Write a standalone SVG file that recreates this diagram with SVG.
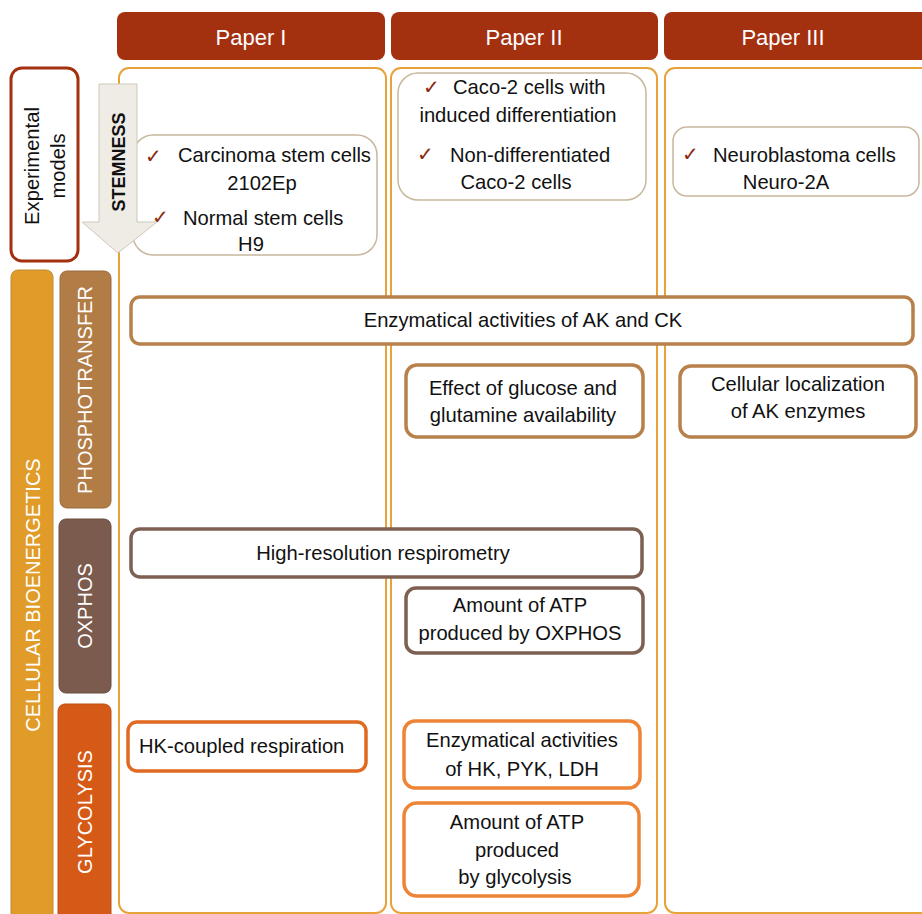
<svg xmlns="http://www.w3.org/2000/svg" width="922" height="914" viewBox="0 0 922 914">
<style>
text{font-family:"Liberation Sans",Arial,sans-serif;fill:#111;}
.hdr{fill:#A3300F;}
.hdrt{fill:#fff;font-size:22px;text-anchor:middle;}
.col{fill:#fff;stroke:#E8A23A;stroke-width:2;}
.model{fill:#fff;stroke:#C8B89E;stroke-width:1.5;}
.t{font-size:20.2px;}
.c{text-anchor:middle;}
.chk{fill:#8B2A10;font-family:"DejaVu Sans",sans-serif;font-size:20px;}
.side{fill:#fff;font-size:20px;text-anchor:middle;}
.pt{fill:#fff;stroke:#B8804A;stroke-width:3.5;}
.ox{fill:#fff;stroke:#7D6052;stroke-width:3.5;}
.gl1{fill:#fff;stroke:#E06A22;stroke-width:3.5;}
.gl2{fill:#fff;stroke:#EE8436;stroke-width:3.5;}
</style>

<g id="columns">
<rect class="col" x="119" y="68" width="267" height="845" rx="10"/>
<rect class="col" x="391" y="68" width="266" height="845" rx="10"/>
<rect class="col" x="665" y="68" width="270" height="845" rx="10"/>
</g>

<g id="paper1"><rect class="hdr" x="117" y="12" width="268" height="48" rx="8"/><text class="hdrt" x="251" y="45">Paper I</text></g>
<g id="paper2"><rect class="hdr" x="391" y="12" width="267" height="48" rx="8"/><text class="hdrt" x="524" y="45">Paper II</text></g>
<g id="paper3"><rect class="hdr" x="664" y="12" width="270" height="48" rx="8"/><text class="hdrt" x="783" y="45">Paper III</text></g>

<g id="experimental-models">
<rect x="11" y="68" width="67" height="193" rx="11" fill="#fff" stroke="#A3300F" stroke-width="3"/>
<text class="t c" transform="translate(39,166) rotate(-90)">Experimental</text>
<text class="t c" transform="translate(65,166) rotate(-90)">models</text>
</g>

<g id="model-paper1">
<rect class="model" x="133" y="135" width="244" height="120" rx="20"/>
<text class="chk" x="145" y="163">✓</text>
<text class="t" x="178" y="162">Carcinoma stem cells</text>
<text class="t c" x="262" y="190">2102Ep</text>
<text class="chk" x="152" y="224">✓</text>
<text class="t" x="183" y="225">Normal stem cells</text>
<text class="t c" x="251" y="251">H9</text>
</g>

<g id="stemness">
<path d="M99,84 H137 V222 H157 L118,253 L82,222 H99 Z" fill="#EFECE6" stroke="#CFC8BA" stroke-width="1"/>
<text transform="translate(125,162) rotate(-90)" font-size="18" font-weight="bold" text-anchor="middle">STEMNESS</text>
</g>

<g id="model-paper2">
<rect class="model" x="398" y="73" width="248" height="127" rx="20"/>
<text class="chk" x="423" y="94">✓</text>
<text class="t" x="453" y="94">Caco-2 cells with</text>
<text class="t c" x="518" y="122">induced differentiation</text>
<text class="chk" x="417" y="161">✓</text>
<text class="t" x="450" y="162">Non-differentiated</text>
<text class="t c" x="516" y="189">Caco-2 cells</text>
</g>

<g id="model-paper3">
<rect class="model" x="673" y="127" width="246" height="69" rx="14"/>
<text class="chk" x="682" y="161">✓</text>
<text class="t" x="713" y="162">Neuroblastoma cells</text>
<text class="t c" x="786" y="189">Neuro-2A</text>
</g>

<g id="cellular-bioenergetics">
<rect x="11" y="270" width="42" height="660" rx="7" fill="#E09B29" stroke="#C08A35" stroke-width="1"/>
<text class="side" transform="translate(40,595) rotate(-90)">CELLULAR BIOENERGETICS</text>
</g>
<g id="phosphotransfer">
<rect x="60" y="271" width="51" height="237" rx="7" fill="#B27C47" stroke="#9C6B3D" stroke-width="1"/>
<text class="side" transform="translate(92,390) rotate(-90)">PHOSPHOTRANSFER</text>
</g>
<g id="oxphos">
<rect x="59" y="519" width="52" height="174" rx="7" fill="#7B5B4D" stroke="#6A4D41" stroke-width="1"/>
<text class="side" transform="translate(92,606) rotate(-90)">OXPHOS</text>
</g>
<g id="glycolysis">
<rect x="58" y="704" width="53" height="220" rx="7" fill="#D65A17" stroke="#BD4F14" stroke-width="1"/>
<text class="side" transform="translate(92,812) rotate(-90)">GLYCOLYSIS</text>
</g>

<g id="ak-ck">
<rect class="pt" x="131" y="297" width="782" height="47" rx="9"/>
<text class="t c" x="523" y="327">Enzymatical activities of AK and CK</text>
</g>
<g id="glucose-glutamine">
<rect class="pt" x="406" y="365" width="237" height="72" rx="11"/>
<text class="t c" x="523" y="395">Effect of glucose and</text>
<text class="t c" x="523" y="422">glutamine availability</text>
</g>
<g id="ak-localization">
<rect class="pt" x="680" y="366" width="236" height="71" rx="11"/>
<text class="t c" x="798" y="391">Cellular localization</text>
<text class="t c" x="798" y="418">of AK enzymes</text>
</g>

<g id="respirometry">
<rect class="ox" x="131" y="529" width="511" height="48" rx="9"/>
<text class="t c" x="383" y="560">High-resolution respirometry</text>
</g>
<g id="atp-oxphos">
<rect class="ox" x="406" y="588" width="237" height="65" rx="10"/>
<text class="t c" x="520" y="612">Amount of ATP</text>
<text class="t c" x="520" y="640">produced by OXPHOS</text>
</g>

<g id="hk-coupled">
<rect class="gl1" x="128" y="722" width="238" height="49" rx="9"/>
<text class="t" x="139" y="753">HK-coupled respiration</text>
</g>
<g id="hk-pyk-ldh">
<rect class="gl2" x="404" y="721" width="236" height="67" rx="11"/>
<text class="t c" x="522" y="747">Enzymatical activities</text>
<text class="t c" x="522" y="776">of HK, PYK, LDH</text>
</g>
<g id="atp-glycolysis">
<rect class="gl2" x="404" y="803" width="235" height="93" rx="13"/>
<text class="t c" x="517" y="829">Amount of ATP</text>
<text class="t c" x="517" y="857">produced</text>
<text class="t c" x="515" y="884">by glycolysis</text>
</g>

<g id="connectors"></g>
</svg>
